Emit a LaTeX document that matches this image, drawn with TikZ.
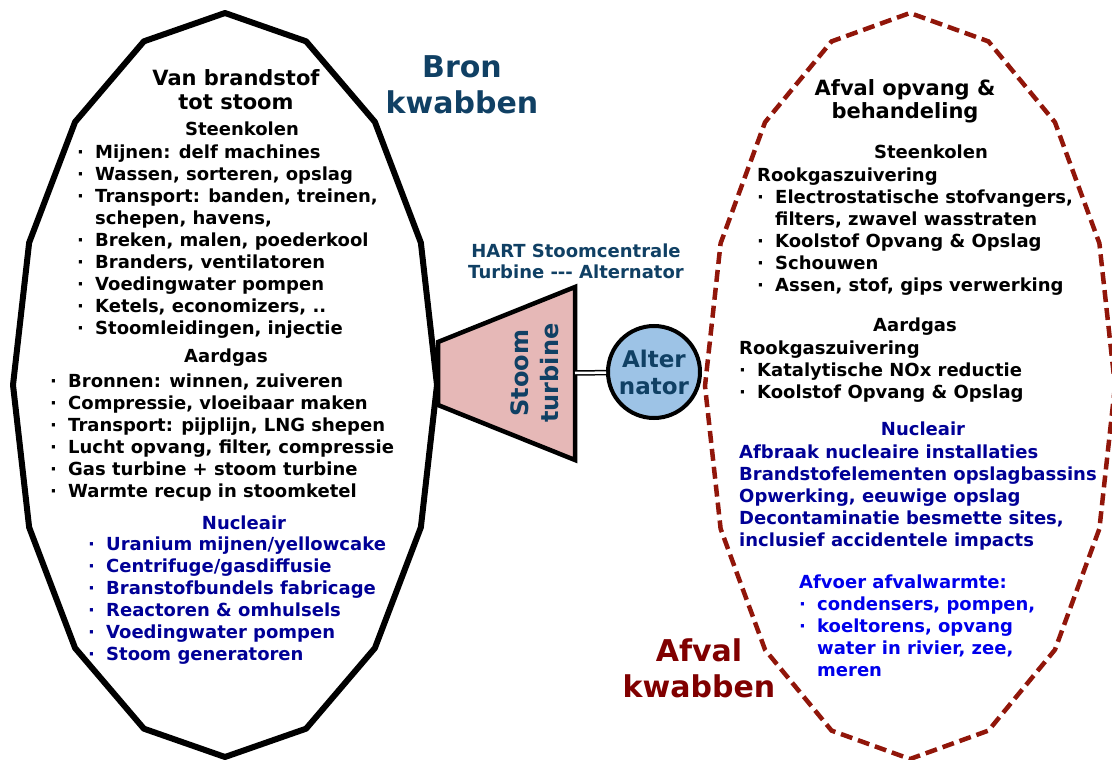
\documentclass[tikz,border=0pt]{standalone}
\usepackage{fontspec}
\setmainfont{DejaVu Sans}

\definecolor{bronblue}{RGB}{16,64,100}
\definecolor{afvalred}{RGB}{128,0,0}
\definecolor{lobered}{RGB}{145,22,10}
\definecolor{nucnavy}{RGB}{0,0,150}
\definecolor{afvoerblue}{RGB}{0,0,235}
\definecolor{turbpink}{RGB}{230,184,183}
\definecolor{altblue}{RGB}{157,195,230}

\newcommand\bul{\makebox[18pt][l]{\textperiodcentered}}
\newcommand\ind{\hspace*{18pt}}
\newcommand\bodyfont{\fontsize{18}{22}\selectfont\bfseries}

\begin{document}
\begin{tikzpicture}[x=1pt,y=-1pt,
  lobe/.style={line width=6pt,line join=round},
  afvallobe/.style={line width=4.5pt,draw=lobered,dash pattern=on 12pt off 6pt},
  body/.style={inner sep=0pt,align=left,font=\bodyfont,anchor=base west},
  head/.style={inner sep=0pt,align=center,font=\bodyfont},
  big/.style={inner sep=0pt,align=center,font=\fontsize{30}{36}\selectfont\bfseries}]
\useasboundingbox (0,0) rectangle (1112,760);

% the two lobes
\draw[lobe] plot[domain=0:337.5,samples=16] ({225+212*cos(\x)},{385+372*sin(\x)}) -- cycle;
\draw[afvallobe] plot[domain=0:337.5,samples=16] ({910+205*cos(\x)},{386+373*sin(\x)}) -- cycle;

% bron side (body nodes sit on the baseline of their last line)
\node[big,bronblue] (bron) at (462,85) {Bron\\kwabben};
\node[head,font=\fontsize{21}{24}\selectfont\bfseries] (vanb) at (236,90) {Van brandstof\\tot stoom};
\node[head] (kolen) at (242,129) {Steenkolen};
\node[body] (kolenlist) at (77,334.5) {\bul Mijnen: delf machines\\\bul Wassen, sorteren, opslag\\\bul Transport: banden, treinen,\\\ind schepen, havens,\\\bul Breken, malen, poederkool\\\bul Branders, ventilatoren\\\bul Voedingwater pompen\\\bul Ketels, economizers, ..\\\bul Stoomleidingen, injectie};
\node[head] (gas) at (226,358) {Aardgas};
\node[body] (gaslist) at (50,497.5) {\bul Bronnen: winnen, zuiveren\\\bul Compressie, vloeibaar maken\\\bul Transport: pijplijn, LNG shepen\\\bul Lucht opvang, filter, compressie\\\bul Gas turbine + stoom turbine\\\bul Warmte recup in stoomketel};
\node[head,nucnavy] (nuc) at (244,523) {Nucleair};
\node[body,nucnavy] (nuclist) at (88,660.5) {\bul Uranium mijnen/yellowcake\\\bul Centrifuge/gasdiffusie\\\bul Branstofbundels fabricage\\\bul Reactoren \& omhulsels\\\bul Voedingwater pompen\\\bul Stoom generatoren};

% turbine and alternator
\node[inner sep=0pt,align=center,bronblue,font=\fontsize{18}{21}\selectfont\bfseries] (hart) at (576,261) {HART Stoomcentrale\\Turbine -{}-{}- Alternator};
\draw[line width=4.5pt,fill=turbpink] (438,342) -- (575,287) -- (575,460) -- (438,405) -- cycle;
\coordinate (shaft) at (575,373);
\node[rotate=90,inner sep=0pt,align=center,bronblue,font=\fontsize{24}{30}\selectfont\bfseries] (turb) at (535,373) {Stoom\\turbine};
\node[circle,draw=black,line width=4pt,fill=altblue,text=bronblue,minimum size=92pt,inner sep=0pt,align=center,font=\fontsize{23}{27}\selectfont\bfseries] (alt) at (654,372) {Alter\\nator};
\draw[line width=1.5pt,double,double distance=2.5pt] (shaft) -- (alt);

% afval side
\node[head,font=\fontsize{21}{23}\selectfont\bfseries] (afv) at (905,101) {Afval opvang \&\\behandeling};
\node[head] (kolen2) at (931,152) {Steenkolen};
\node[body] (rook1) at (757,291.5) {Rookgaszuivering\\\bul Electrostatische stofvangers,\\\ind filters, zwavel wasstraten\\\bul Koolstof Opvang \& Opslag\\\bul Schouwen\\\bul Assen, stof, gips verwerking};
\node[head] (gas2) at (915,327) {Aardgas};
\node[body] (rook2) at (739,398.5) {Rookgaszuivering\\\bul Katalytische NOx reductie\\\bul Koolstof Opvang \& Opslag};
\node[head,nucnavy] (nuc2) at (923,429) {Nucleair};
\node[body,nucnavy] (nuclist2) at (739,546.5) {Afbraak nucleaire installaties\\Brandstofelementen opslagbassins\\Opwerking, eeuwige opslag\\Decontaminatie besmette sites,\\inclusief accidentele impacts};
\node[body,afvoerblue] (afvoer) at (799,676.5) {Afvoer afvalwarmte:\\\bul condensers, pompen,\\\bul koeltorens, opvang\\\ind water in rivier, zee,\\\ind meren};
\node[big,afvalred] (afval) at (699,668) {Afval\\kwabben};
\end{tikzpicture}
\end{document}
